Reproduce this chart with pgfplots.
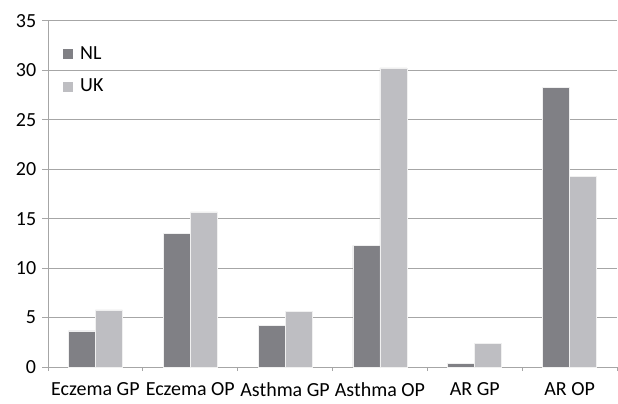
\documentclass[border=0pt]{standalone}
\usepackage{pgfplots}
\pgfplotsset{compat=1.18}
\usepackage{fontspec}
\setmainfont{Carlito}
\definecolor{nl}{RGB}{128,128,133}
\definecolor{uk}{RGB}{190,190,194}
\definecolor{gridc}{RGB}{166,166,166}
\begin{document}
\fontsize{20}{24}\selectfont
\begin{tikzpicture}
\begin{axis}[name=ax, scale only axis, width=569pt, height=346pt,
  xmin=-0.5, xmax=5.5, ymin=0, ymax=35,
  ytick={0,5,...,35},
  xtick={0,...,5},
  xticklabels={Eczema GP,Eczema OP,Asthma GP,Asthma OP,AR GP,AR OP},
  minor xtick={-0.5,0.5,...,5.5},
  font=\fontsize{20}{24}\selectfont,
  /pgf/number format/assume math mode=true,
  axis x line*=bottom, axis y line*=left,
  ymajorgrids, grid style={gridc, line width=1pt},
  axis line style={gridc, line width=1pt},
  tick align=outside,
  major tick length=6pt, minor tick length=4pt,
  major x tick style={draw=none},
  tick style={gridc, line width=1pt},
  yticklabel style={xshift=1pt},
  xticklabel style={yshift=-3pt},
  legend style={at={(axis description cs:0,1)}, anchor=north west,
    xshift=12pt, yshift=-21pt, draw=none, fill=none,
    row sep=13pt, font=\fontsize{20}{24}\selectfont,
    /tikz/every odd column/.append style={column sep=5pt}},
  legend image code/.code={\fill[#1,draw=none] (0pt,-5pt) rectangle (10pt,5pt);},
  legend cell align=left,
]
\addplot[ybar, bar width=0.285, bar shift=-0.1425, fill=nl, draw=white!88!gray, line width=0.6pt]
  coordinates {(0,3.65) (1,13.48) (2,4.18) (3,12.31) (4,0.37) (5,28.29)};
\addlegendentry{NL}
\addplot[ybar, bar width=0.285, bar shift=0.1425, fill=uk, draw=white!88!gray, line width=0.6pt]
  coordinates {(0,5.77) (1,15.68) (2,5.66) (3,30.25) (4,2.36) (5,19.32)};
\addlegendentry{UK}
\end{axis}
\pgfresetboundingbox
\path ([xshift=-48pt,yshift=-36pt]ax.south west) rectangle ([xshift=1pt,yshift=21pt]ax.north east);
\end{tikzpicture}
\end{document}
